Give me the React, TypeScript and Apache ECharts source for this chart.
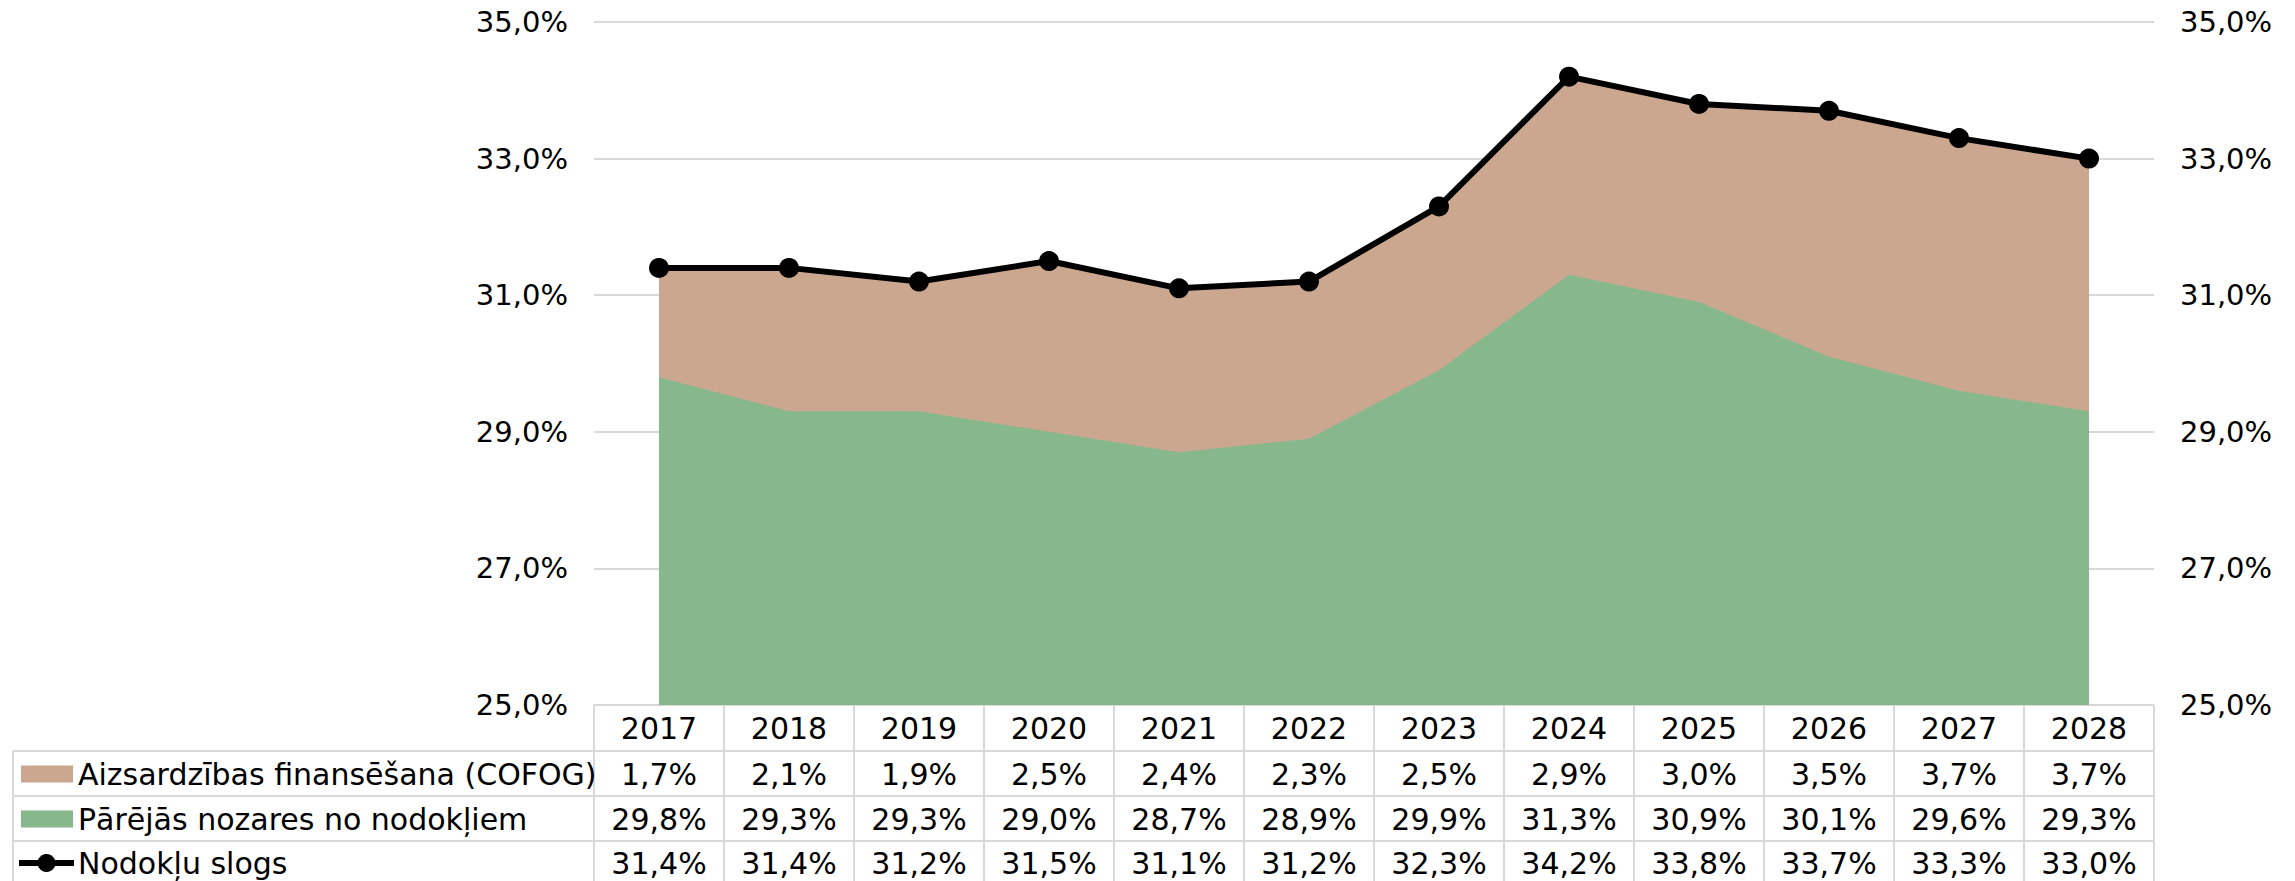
import React, { useEffect, useRef } from "react";
import * as echarts from "echarts";

const years = ["2017", "2018", "2019", "2020", "2021", "2022", "2023", "2024", "2025", "2026", "2027", "2028"];
const defense = [1.7, 2.1, 1.9, 2.5, 2.4, 2.3, 2.5, 2.9, 3.0, 3.5, 3.7, 3.7];
const otherSectors = [29.8, 29.3, 29.3, 29.0, 28.7, 28.9, 29.9, 31.3, 30.9, 30.1, 29.6, 29.3];
const taxBurden = [31.4, 31.4, 31.2, 31.5, 31.1, 31.2, 32.3, 34.2, 33.8, 33.7, 33.3, 33.0];
const nameDefense = "Aizsardzības finansēšana (COFOG)";
const nameOther = "Pārējās nozares no nodokļiem";
const nameTotal = "Nodokļu slogs";
const yMin = 25;
const yMax = 35;
const yInterval = 2;

const W = 2295;
const H = 881;
const GL = 594;
const GR = 2154;
const GT = 22;
const GB = 705;
const FONT = "DejaVu Sans";
const FS_AXIS = 29;
const FS_TABLE = 30;
const TAN = "#CBA78F";
const GREEN = "#86B88B";
const GRID_C = "#D9D9D9";

const fmt = (v: number) => v.toFixed(1).replace(".", ",") + "%";

function buildGraphic() {
  const els: any[] = [];
  const n = years.length;
  const colW = (GR - GL) / n;
  const rowLines = [705, 751, 796, 841];
  const rowCenters = [728, 774, 819, 863];
  const lineStyle = { stroke: GRID_C, lineWidth: 2 };
  els.push({ type: "line", shape: { x1: GL, y1: rowLines[0], x2: GR, y2: rowLines[0] }, style: lineStyle });
  for (let i = 1; i < rowLines.length; i++) {
    els.push({ type: "line", shape: { x1: 13, y1: rowLines[i], x2: GR, y2: rowLines[i] }, style: lineStyle });
  }
  for (let i = 0; i <= n; i++) {
    const x = GL + i * colW;
    els.push({ type: "line", shape: { x1: x, y1: rowLines[0], x2: x, y2: H }, style: lineStyle });
  }
  els.push({ type: "line", shape: { x1: 13, y1: rowLines[1], x2: 13, y2: H }, style: lineStyle });

  const txt = (x: number, y: number, s: string, align: string) => ({
    type: "text",
    x,
    y,
    style: { text: s, fill: "#000", font: `${FS_TABLE}px "${FONT}"`, align, verticalAlign: "middle" },
  });
  const rows = [defense, otherSectors, taxBurden];
  for (let i = 0; i < n; i++) {
    const cx = GL + i * colW + colW / 2;
    els.push(txt(cx, rowCenters[0], years[i], "center"));
    rows.forEach((arr, r) => els.push(txt(cx, rowCenters[r + 1], fmt(arr[i]), "center")));
  }
  els.push({ type: "rect", shape: { x: 21, y: rowCenters[1] - 8.5, width: 52, height: 17 }, style: { fill: TAN } });
  els.push({ type: "rect", shape: { x: 21, y: rowCenters[2] - 8.5, width: 52, height: 17 }, style: { fill: GREEN } });
  els.push({ type: "line", shape: { x1: 19, y1: rowCenters[3], x2: 74, y2: rowCenters[3] }, style: { stroke: "#000", lineWidth: 6 } });
  els.push({ type: "circle", shape: { cx: 46.5, cy: rowCenters[3], r: 9 }, style: { fill: "#000" } });
  els.push(txt(78, rowCenters[1], nameDefense, "left"));
  els.push(txt(78, rowCenters[2], nameOther, "left"));
  els.push(txt(78, rowCenters[3], nameTotal, "left"));
  return els;
}

export default function App() {
  const ref = useRef<HTMLDivElement>(null);
  useEffect(() => {
    if (!ref.current) return;
    const chart = echarts.init(ref.current, undefined, { renderer: "svg" });
    const yLabel = { fontFamily: FONT, fontSize: FS_AXIS, color: "#000", margin: 26, formatter: (v: number) => fmt(v) };
    chart.setOption({
      animation: false,
      backgroundColor: "#fff",
      grid: { left: GL, right: W - GR, top: GT, bottom: H - GB, containLabel: false },
      xAxis: {
        type: "category",
        data: years,
        boundaryGap: true,
        axisLine: { show: false },
        axisTick: { show: false },
        axisLabel: { show: false },
      },
      yAxis: [
        {
          type: "value",
          min: yMin,
          max: yMax,
          interval: yInterval,
          position: "left",
          axisLine: { show: false },
          axisTick: { show: false },
          axisLabel: yLabel,
          splitLine: { show: true, lineStyle: { color: GRID_C, width: 2 } },
        },
        {
          type: "value",
          min: yMin,
          max: yMax,
          interval: yInterval,
          position: "right",
          axisLine: { show: false },
          axisTick: { show: false },
          axisLabel: yLabel,
          splitLine: { show: false },
        },
      ],
      series: [
        {
          // defence band: spans from the other-sectors area up to the total tax burden
          name: nameDefense,
          type: "line",
          data: taxBurden,
          symbol: "none",
          lineStyle: { width: 0, opacity: 0 },
          areaStyle: { color: TAN, opacity: 1 },
          z: 1,
        },
        {
          name: nameOther,
          type: "line",
          data: otherSectors,
          symbol: "none",
          lineStyle: { width: 0, opacity: 0 },
          areaStyle: { color: GREEN, opacity: 1 },
          z: 2,
        },
        {
          name: nameTotal,
          type: "line",
          data: taxBurden,
          symbol: "circle",
          symbolSize: 20,
          itemStyle: { color: "#000" },
          lineStyle: { color: "#000", width: 6 },
          z: 5,
        },
      ],
      graphic: buildGraphic(),
    });
    return () => chart.dispose();
  }, []);
  return <div ref={ref} style={{ position: "fixed", left: 0, top: 0, width: W, height: H, background: "#fff" }} />;
}
